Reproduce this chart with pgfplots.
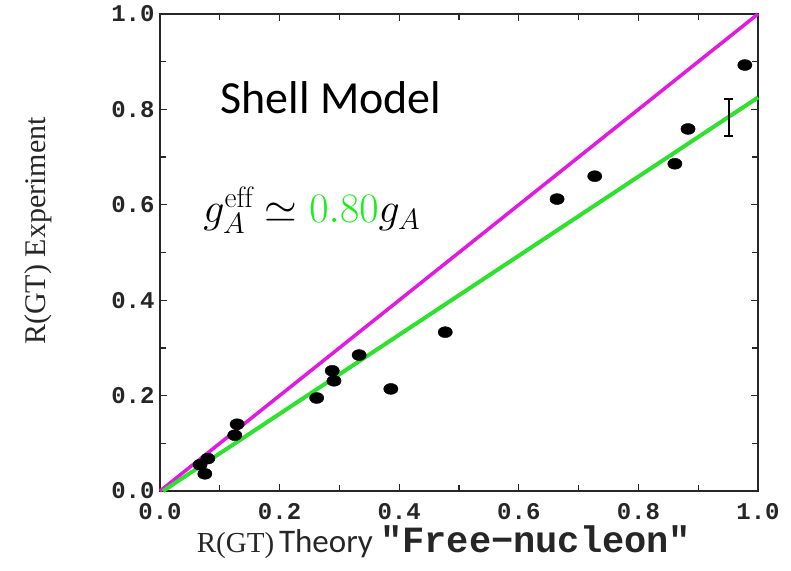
\documentclass[border=0pt]{standalone}
\usepackage{fix-cm}
\usepackage{pgfplots}
\pgfplotsset{compat=1.18}
\usepackage{fontspec}
\newfontfamily\serifrm{Liberation Serif}
\newfontfamily\calibri{Carlito}
\newfontfamily\monob{Liberation Mono}

\definecolor{linemag}{RGB}{225,25,225}
\definecolor{linegreen}{RGB}{45,225,45}
\definecolor{txtgreen}{RGB}{20,240,20}

\begin{document}
\begin{tikzpicture}
\useasboundingbox (-160pt,-79pt) rectangle (631pt,491pt);
\begin{axis}[
  at={(0,0)}, anchor=south west,
  scale only axis, width=598pt, height=477pt,
  xmin=0, xmax=1, ymin=0, ymax=1,
  xtick={0,0.2,0.4,0.6,0.8,1.0},
  ytick={0,0.2,0.4,0.6,0.8,1.0},
  minor tick num=1,
  tick align=inside,
  major tick length=7pt, minor tick length=6pt,
  axis line style={line width=1.6pt, black!85},
  every tick/.style={line width=1.2pt, black!85},
  tick label style={font=\fontsize{24}{24}\selectfont\monob\bfseries, black!85},
  xticklabel style={yshift=-9pt},
  yticklabel style={xshift=-2pt},
  /pgf/number format/.cd, fixed, fixed zerofill, precision=1, assume math mode=true,
  /pgfplots/.cd,
  clip=false,
]
% reference lines: free-nucleon (slope 1) and quenched fit
\addplot[linemag, line width=3.5pt] coordinates {(0,0) (1,1)};
\addplot[linegreen, line width=4pt] coordinates {(0.005,0) (1,0.825)};

% measured ratios
\addplot[only marks, mark=*, mark size=5.5pt, mark options={black, xscale=1.3}]
  coordinates {
  (0.067,0.055) (0.075,0.036) (0.080,0.068)
  (0.129,0.140) (0.125,0.117)
  (0.262,0.195) (0.288,0.252) (0.291,0.231) (0.333,0.285)
  (0.386,0.214) (0.477,0.333)
  (0.664,0.612) (0.727,0.660) (0.861,0.686) (0.883,0.759) (0.978,0.893)
  };

% typical uncertainty
\addplot[black, line width=1.6pt, mark=none,
  error bars/.cd, y dir=both, y explicit,
  error bar style={line width=1.6pt},
  error mark options={rotate=90, mark size=4.5pt, line width=1.6pt}]
  coordinates {(0.951,0.783) +- (0,0.039)};

\node[anchor=base, font=\fontsize{46}{46}\selectfont\calibri]
  at (rel axis cs:0.286,0.792) {Shell Model};
\node[anchor=base, font=\fontsize{42}{42}\selectfont]
  at (rel axis cs:0.254,0.562) {$g_A^{\mathrm{eff}}\simeq{\color{txtgreen}0.80}g_A$};

\node[anchor=base, black!85] at (rel axis cs:0.475,-0.128)
  {\fontsize{29}{29}\selectfont\serifrm R(GT)\,\fontsize{33}{33}\selectfont\calibri Theory\ \monob\bfseries\fontsize{37}{37}\selectfont "Free−nucleon"};
\node[rotate=90, black!85, font=\fontsize{30}{30}\selectfont\serifrm]
  at (rel axis cs:-0.204,0.545) {R(GT) Experiment};
\end{axis}
\end{tikzpicture}
\end{document}
